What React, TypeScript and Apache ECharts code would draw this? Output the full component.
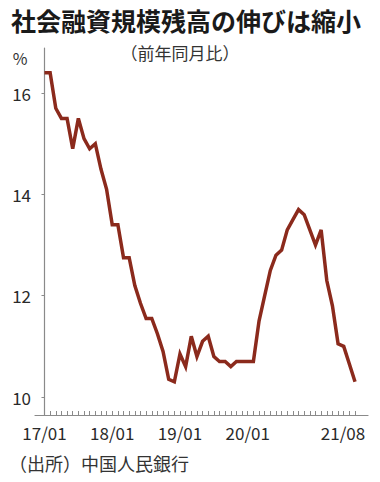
import React, { useEffect, useRef } from "react";
import * as echarts from "echarts";

const monthIndex: number[] = Array.from({ length: 56 }, (_, i) => i);
const growth: number[] = [
  16.4, 16.4, 15.7, 15.5, 15.5, 14.9, 15.5, 15.1, 14.9, 15.0, 14.5, 14.1,
  13.4, 13.4, 12.75, 12.75, 12.2, 11.85, 11.55, 11.55, 11.25, 10.9, 10.35, 10.3,
  10.85, 10.6, 11.2, 10.8, 11.1, 11.2, 10.8, 10.7, 10.7, 10.6, 10.7, 10.7,
  10.7, 10.7, 11.5, 12.0, 12.5, 12.8, 12.9, 13.3, 13.5, 13.7, 13.6, 13.3,
  13.0, 13.3, 12.3, 11.8, 11.05, 11.0, 10.65, 10.3,
];
const xLabelIdx: number[] = [0, 12, 24, 36, 55];
const xLabels: string[] = ["17/01", "18/01", "19/01", "20/01", "21/08"];
const yTicks: number[] = [10, 12, 14, 16];

const FONT = "'Noto Sans CJK JP', 'Noto Sans', sans-serif";

export default function App() {
  const ref = useRef<HTMLDivElement>(null);
  useEffect(() => {
    if (!ref.current) return;
    const chart = echarts.init(ref.current, null, { renderer: "svg" });
    chart.setOption({
      animation: false,
      backgroundColor: "#ffffff",
      grid: { left: 35, right: 12, top: 48, bottom: 67 },
      graphic: [
        {
          type: "text",
          x: 11,
          y: 20,
          style: {
            text: "社会融資規模残高の伸びは縮小",
            font: `bold 25px ${FONT}`,
            lineHeight: 26,
            fill: "#1a1a1a",
            verticalAlign: "middle",
          },
        },
        {
          type: "text",
          x: 180,
          y: 52,
          style: {
            text: "（前年同月比）",
            font: `17px ${FONT}`,
            lineHeight: 18,
            fill: "#333333",
            align: "center",
            verticalAlign: "middle",
          },
        },
        {
          type: "text",
          x: 20,
          y: 58,
          style: {
            text: "%",
            font: `16px ${FONT}`,
            lineHeight: 16,
            fill: "#333333",
            align: "center",
            verticalAlign: "middle",
          },
        },
        {
          type: "text",
          x: 9,
          y: 463,
          style: {
            text: "（出所）中国人民銀行",
            font: `18px ${FONT}`,
            lineHeight: 19,
            fill: "#333333",
            verticalAlign: "middle",
          },
        },
      ],
      xAxis: {
        type: "value",
        min: -1.68,
        max: 57.3,
        splitLine: { show: false },
        axisLine: { show: true, lineStyle: { color: "#8a8a8a", width: 1.2 } },
        axisTick: {
          show: true,
          inside: true,
          length: 4,
          customValues: monthIndex,
          lineStyle: { color: "#8a8a8a", width: 1 },
        },
        axisLabel: {
          customValues: xLabelIdx,
          margin: 9,
          color: "#2a2a2a",
          fontSize: 17,
          fontFamily: FONT,
          formatter: (v: number) => {
            const k = xLabelIdx.indexOf(Math.round(v));
            if (k < 0) return "";
            if (k === xLabels.length - 1) return `{last|${xLabels[k]}}`;
            return xLabels[k];
          },
          rich: {
            last: {
              fontSize: 17,
              fontFamily: FONT,
              color: "#2a2a2a",
              padding: [0, 24, 0, 0],
            },
          },
        },
      },
      yAxis: {
        type: "value",
        min: 9.645,
        max: 16.89,
        splitLine: { show: false },
        axisLine: { show: true, lineStyle: { color: "#8a8a8a", width: 1.2 } },
        axisTick: {
          show: true,
          length: 3,
          customValues: yTicks,
          lineStyle: { color: "#8a8a8a", width: 1 },
        },
        axisLabel: {
          customValues: yTicks,
          margin: 4,
          color: "#2a2a2a",
          fontSize: 17,
          fontFamily: FONT,
        },
      },
      series: [
        {
          type: "line",
          data: monthIndex.map((i) => [i, growth[i]]),
          showSymbol: false,
          symbol: "none",
          lineStyle: { color: "#8b2a1c", width: 3.5, join: "miter" },
          itemStyle: { color: "#8b2a1c" },
        },
      ],
    });
    return () => chart.dispose();
  }, []);
  return (
    <div
      ref={ref}
      style={{ width: 380, height: 482, position: "absolute", left: 0, top: 0 }}
    />
  );
}
